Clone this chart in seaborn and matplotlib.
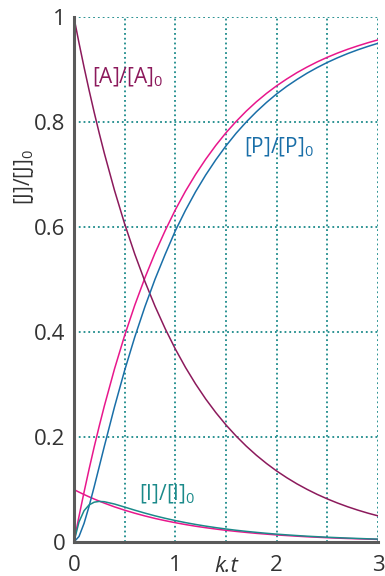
import pandas as pd
import seaborn as sns
import matplotlib.pyplot as plt
from matplotlib.ticker import MultipleLocator

# values
kt = [0, 0.05, 0.1, 0.15, 0.2, 0.25, 0.3, 0.4, 0.5, 0.6, 0.7, 0.8, 0.9, 1.0,
      1.1, 1.2, 1.3, 1.4, 1.5, 1.6, 1.7, 1.8, 1.9, 2.0, 2.1, 2.2, 2.3, 2.4,
      2.5, 2.6, 2.7, 2.8, 2.9, 3.0]
A = [1.000, 0.9512, 0.9048, 0.8607, 0.8187, 0.7788, 0.7408, 0.6703, 0.6065,
     0.5488, 0.4966, 0.4493, 0.4066, 0.3679, 0.3329, 0.3012, 0.2725, 0.2466,
     0.2231, 0.2019, 0.1827, 0.1653, 0.1496, 0.1353, 0.1225, 0.1108, 0.1003,
     0.0907, 0.0821, 0.0743, 0.0672, 0.0608, 0.0550, 0.0498]
I_exact = [0, 0.0383, 0.0597, 0.0708, 0.0759, 0.0774, 0.0768, 0.0724, 0.0666,
           0.0607, 0.0551, 0.0499, 0.0452, 0.0409, 0.0370, 0.0335, 0.0303,
           0.0274, 0.0248, 0.0224, 0.0203, 0.0184, 0.0166, 0.0150, 0.0136,
           0.0123, 0.0111, 0.0101, 0.0091, 0.0083, 0.0075, 0.0068, 0.0061, 0.0055]
I_ss = [0.1000, 0.0951, 0.0905, 0.0861, 0.0819, 0.0779, 0.0741, 0.0670, 0.0607,
        0.0549, 0.0497, 0.0449, 0.0407, 0.0368, 0.0333, 0.0301, 0.0273, 0.0247,
        0.0223, 0.0202, 0.0183, 0.0165, 0.0150, 0.0135, 0.0123, 0.0111, 0.0100,
        0.0091, 0.0082, 0.0074, 0.0067, 0.0061, 0.0055, 0.0050]
P_exact = [0, 0.0105, 0.0355, 0.0685, 0.1054, 0.1438, 0.1824, 0.2573, 0.3269,
           0.3905, 0.4483, 0.5008, 0.5482, 0.5930, 0.6320, 0.6675, 0.6995,
           0.7285, 0.7550, 0.7790, 0.8005, 0.8200, 0.8378, 0.8540, 0.8685,
           0.8815, 0.8935, 0.9042, 0.9140, 0.9228, 0.9308, 0.9380, 0.9445, 0.9505]
P_ss = [0, 0.0488, 0.0952, 0.1393, 0.1813, 0.2212, 0.2592, 0.3297, 0.3935,
        0.4512, 0.5034, 0.5507, 0.5934, 0.6330, 0.6685, 0.7005, 0.7295,
        0.7560, 0.7800, 0.8015, 0.8212, 0.8390, 0.8550, 0.8695, 0.8825,
        0.8945, 0.9052, 0.9150, 0.9238, 0.9318, 0.9390, 0.9455, 0.9515, 0.9570]

y_ticks = [0, 0.2, 0.4, 0.6, 0.8, 1.0]
y_ticklabels = ['0', '0.2', '0.4', '0.6', '0.8', '1']
x_ticks = [0, 1, 2, 3]

df = pd.DataFrame({'kt': kt, 'A': A, 'I_exact': I_exact, 'I_ss': I_ss,
                   'P_exact': P_exact, 'P_ss': P_ss})

maroon = '#8c1a5c'
pink = '#e8178c'
blue = '#1a6fa8'
teal = '#1b8a8a'
grey = '#333333'

sns.set_style('white')
plt.rcParams['font.family'] = ['Open Sans', 'DejaVu Sans']
plt.rcParams['mathtext.default'] = 'regular'

fig = plt.figure(figsize=(3.85, 5.76), dpi=100)
ax = fig.add_axes([0.192, 0.059, 0.790, 0.911])

sns.lineplot(data=df, x='kt', y='I_ss', color=pink, lw=1.1, ax=ax)
sns.lineplot(data=df, x='kt', y='P_ss', color=pink, lw=1.1, ax=ax)
sns.lineplot(data=df, x='kt', y='A', color=maroon, lw=1.1, ax=ax)
sns.lineplot(data=df, x='kt', y='P_exact', color=blue, lw=1.1, ax=ax)
sns.lineplot(data=df, x='kt', y='I_exact', color=teal, lw=1.1, ax=ax)

ax.set_xlim(0, 3)
ax.set_ylim(0, 1)
ax.set_xticks(x_ticks)
ax.set_xticklabels([str(v) for v in x_ticks])
ax.xaxis.set_minor_locator(MultipleLocator(0.5))
ax.set_yticks(y_ticks)
ax.set_yticklabels(y_ticklabels)
ax.grid(True, which='both', axis='x', color=teal, ls=':', lw=1.3)
ax.grid(True, which='major', axis='y', color=teal, ls=':', lw=1.3)
ax.tick_params(axis='both', which='both', length=0, labelsize=16, labelcolor=grey)
ax.tick_params(axis='x', pad=9)
ax.tick_params(axis='y', pad=6)

for side in ['top', 'right']:
    ax.spines[side].set_visible(False)
for side in ['left', 'bottom']:
    ax.spines[side].set_color('#5a5a5a')
    ax.spines[side].set_linewidth(2.2)

ax.set_xlabel('k.t', fontsize=16, style='italic', color=grey)
ax.xaxis.set_label_coords(0.5, -0.027)
ax.set_ylabel('[J]/[J]$_0$', fontsize=15, color=grey)
ax.yaxis.set_label_coords(-0.125, 0.695)

ax.text(0.18, 0.885, '[A]/[A]$_0$', color=maroon, fontsize=15, va='center')
ax.text(1.68, 0.752, '[P]/[P]$_0$', color=blue, fontsize=15, va='center')
ax.text(0.64, 0.09, '[I]/[I]$_0$', color=teal, fontsize=15, va='center')

fig.savefig('out.png', dpi=100)
